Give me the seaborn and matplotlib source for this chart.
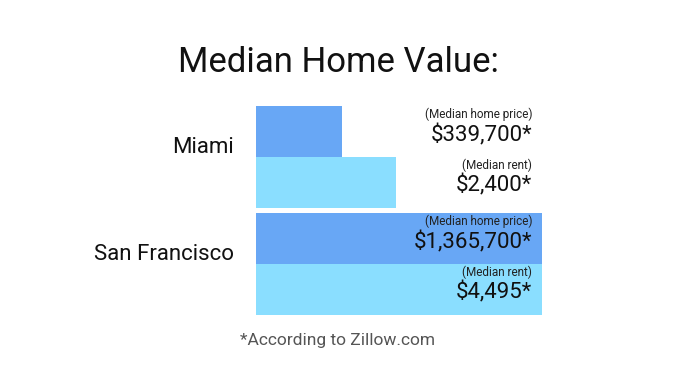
import pandas as pd
import matplotlib.pyplot as plt
import seaborn as sns

# Data
cities = ['Miami', 'San Francisco']
metrics = ['(Median home price)', '(Median rent)']
home_price = [339700, 1365700]
rent = [2400, 4495]
home_labels = ['$339,700*', '$1,365,700*']
rent_labels = ['$2,400*', '$4,495*']
# bar lengths relative to the longest bar of each metric (as drawn)
home_share = [0.30, 1.00]
rent_share = [0.49, 1.00]

colors = ['#68a7f5', '#8adeff']

df = pd.DataFrame({
    'city': cities * 2,
    'metric': [metrics[0]] * 2 + [metrics[1]] * 2,
    'share': home_share + rent_share,
})
labels = {metrics[0]: home_labels, metrics[1]: rent_labels}

sns.set_style('white')
plt.rcParams['font.family'] = ['Roboto', 'DejaVu Sans']

fig = plt.figure(figsize=(6.77, 3.78), dpi=100)
ax = fig.add_axes([256 / 677, 1 - 317.5 / 378, (542 - 256) / 677, 214 / 378])

sns.barplot(data=df, x='share', y='city', hue='metric', order=cities,
            hue_order=metrics, palette=colors, width=0.95, saturation=1,
            linewidth=0, legend=False, ax=ax)

ax.set_xlim(0, 1)
ax.set_ylim(1.5, -0.5)
ax.set_xlabel('')
ax.set_ylabel('')
ax.set_xticks([])
ax.set_yticks([])
sns.despine(ax=ax, left=True, bottom=True)

# value labels inside / next to bars
for metric, cont in zip(metrics, ax.containers):
    for bar, txt in zip(cont, labels[metric]):
        yc = bar.get_y() + bar.get_height() / 2
        ax.annotate(metric, xy=(1, yc), xycoords=('axes fraction', 'data'),
                    xytext=(-7, 12.5), textcoords='offset points',
                    ha='right', va='center', fontsize=8.5, color='#222222')
        ax.annotate(txt, xy=(1, yc), xycoords=('axes fraction', 'data'),
                    xytext=(-7, -2.5), textcoords='offset points',
                    ha='right', va='center', fontsize=16, color='#111111')

# city names
for i, city in enumerate(cities):
    ax.annotate(city, xy=(0, i), xycoords=('axes fraction', 'data'),
                xytext=(-16, 6.5), textcoords='offset points',
                ha='right', va='center', fontsize=16, color='#111111')

fig.text(338 / 677, 1 - 62 / 378, 'Median Home Value:', ha='center', va='center',
         fontsize=25, color='#111111')
fig.text(338 / 677, 1 - 341 / 378, '*According to Zillow.com', ha='center', va='center',
         fontsize=12.5, color='#555555')

fig.savefig('out.png', dpi=100, facecolor='white')
